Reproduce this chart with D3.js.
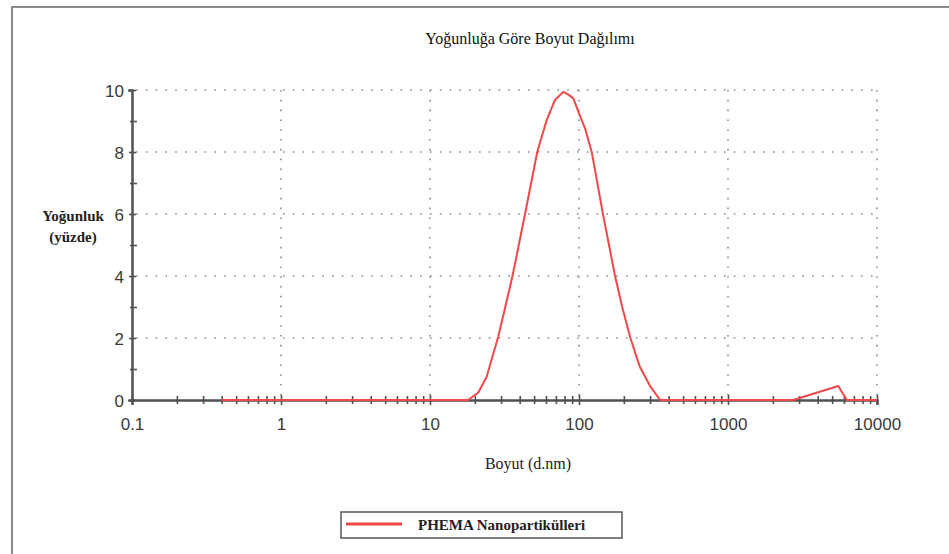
<!DOCTYPE html>
<html>
<head>
<meta charset="utf-8">
<script src="https://cdn.jsdelivr.net/npm/d3@7"></script>
<style>
  html, body { margin: 0; padding: 0; background: #fff; }
  svg { display: block; }
</style>
</head>
<body>
<svg id="chart" width="949" height="554"></svg>
<script>
// ---- data ----
const title = "Yoğunluğa Göre Boyut Dağılımı";
const xAxisTitle = "Boyut (d.nm)";
const yAxisTitle = ["Yoğunluk", "(yüzde)"];
const seriesName = "PHEMA Nanopartikülleri";
const sizeNm = [0.4, 18, 21.1, 24, 28.7, 32, 35.9, 43.4, 52.5, 60.7, 69, 78.5, 85, 91.6, 99, 110, 121.6, 145, 174, 195, 220, 256, 300, 350, 2740, 5500, 6270, 10000];
const intensity = [0, 0, 0.24, 0.75, 2.04, 3.0, 4.03, 5.99, 8.01, 9.03, 9.68, 9.94, 9.85, 9.73, 9.3, 8.75, 8.01, 5.99, 4.03, 3.0, 2.04, 1.07, 0.45, 0, 0, 0.45, 0, 0];
const xTickValues = [0.1, 1, 10, 100, 1000, 10000];
const xTickLabels = ["0.1", "1", "10", "100", "1000", "10000"];
const yTickValues = [0, 2, 4, 6, 8, 10];
const yMinorTicks = [1, 3, 5, 7, 9];

// ---- layout ----
const svg = d3.select("#chart");
const mLeft = 132, mRight = 877, mTop = 90, mBottom = 400;
const x = d3.scaleLog().domain([0.1, 10000]).range([mLeft, mRight]);
const y = d3.scaleLinear().domain([0, 10]).range([mBottom, mTop]);

// outer frame
svg.append("path")
  .attr("d", `M12,560 L12,7 L960,7`)
  .attr("fill", "none").attr("stroke", "#8a8a8a").attr("stroke-width", 2);

const serif = "'Liberation Serif', serif";

// title
svg.append("text").attr("x", 530).attr("y", 44)
  .attr("text-anchor", "middle")
  .style("font-family", serif).style("font-size", "16px")
  .attr("fill", "#111").text(title);

// gridlines
const gridColor = "#8c8c8c";
svg.append("g").selectAll("line").data(yTickValues.filter(d => d > 0)).join("line")
  .attr("x1", mLeft + 4).attr("x2", mRight)
  .attr("y1", d => y(d)).attr("y2", d => y(d))
  .attr("stroke", gridColor).attr("stroke-width", 1.6).attr("stroke-dasharray", "1.6,8.2");
svg.append("g").selectAll("line").data(xTickValues.filter(d => d > 0.1)).join("line")
  .attr("x1", d => x(d)).attr("x2", d => x(d))
  .attr("y1", mTop).attr("y2", mBottom)
  .attr("stroke", gridColor).attr("stroke-width", 1.6).attr("stroke-dasharray", "1.6,8.2");

// axes
const axisColor = "#505050";
const fmtX = d => xTickLabels[xTickValues.indexOf(d)];
const gx = svg.append("g").attr("transform", `translate(0,${mBottom})`)
  .call(d3.axisBottom(x).tickValues(xTickValues).tickFormat(fmtX).tickSize(5).tickPadding(16));
const minorX = x.ticks().filter(d => !xTickValues.some(v => Math.abs(v - d) / v < 1e-6));
const gxm = svg.append("g").attr("transform", `translate(0,${mBottom})`)
  .call(d3.axisBottom(x).tickValues(minorX).tickFormat("").tickSize(4));
gxm.selectAll(".tick line").attr("y1", -4);
gx.selectAll(".tick line").attr("y1", -5);

const gy = svg.append("g").attr("transform", `translate(${mLeft},0)`)
  .call(d3.axisLeft(y).tickValues(yTickValues).tickSize(4).tickPadding(4));
gy.selectAll(".tick line").attr("x2", 4).attr("x1", -3);
const gym = svg.append("g").attr("transform", `translate(${mLeft},0)`)
  .call(d3.axisLeft(y).tickValues(yMinorTicks).tickFormat("").tickSize(3));
gym.selectAll(".tick line").attr("x2", 5).attr("x1", -2);

[gx, gxm, gy, gym].forEach(g => {
  g.select(".domain").attr("stroke", axisColor).attr("stroke-width", 2);
  g.selectAll(".tick line").attr("stroke", axisColor).attr("stroke-width", 1.6);
  g.selectAll("text").attr("fill", "#3a3a3a")
    .style("font-family", "'Liberation Sans', Arial, sans-serif").style("font-size", "17px");
});
gx.selectAll("text").attr("dy", "0.55em");
gy.selectAll("text").attr("dy", "0.36em");

// series
const pts = sizeNm.map((d, i) => [d, intensity[i]]);
svg.append("path").datum(pts)
  .attr("d", d3.line().x(d => x(d[0])).y(d => y(d[1])))
  .attr("fill", "none").attr("stroke", "#f04848").attr("stroke-width", 2)
  .attr("stroke-linejoin", "round");

// axis titles
svg.append("text").attr("x", 73).attr("y", 221).attr("text-anchor", "middle")
  .style("font-family", serif).style("font-size", "15px").style("font-weight", "bold")
  .attr("fill", "#222").text(yAxisTitle[0]);
svg.append("text").attr("x", 73).attr("y", 242).attr("text-anchor", "middle")
  .style("font-family", serif).style("font-size", "15px").style("font-weight", "bold")
  .attr("fill", "#222").text(yAxisTitle[1]);
svg.append("text").attr("x", 528).attr("y", 469).attr("text-anchor", "middle")
  .style("font-family", serif).style("font-size", "16px")
  .attr("fill", "#222").text(xAxisTitle);

// legend
const lg = svg.append("g");
lg.append("rect").attr("x", 341).attr("y", 512).attr("width", 281).attr("height", 26)
  .attr("fill", "#fff").attr("stroke", "#555").attr("stroke-width", 1.5);
lg.append("line").attr("x1", 346).attr("x2", 402).attr("y1", 524).attr("y2", 524)
  .attr("stroke", "#f04848").attr("stroke-width", 3);
lg.append("text").attr("x", 418).attr("y", 530)
  .style("font-family", serif).style("font-size", "15px").style("font-weight", "bold")
  .attr("fill", "#222").text(seriesName);
</script>
</body>
</html>
